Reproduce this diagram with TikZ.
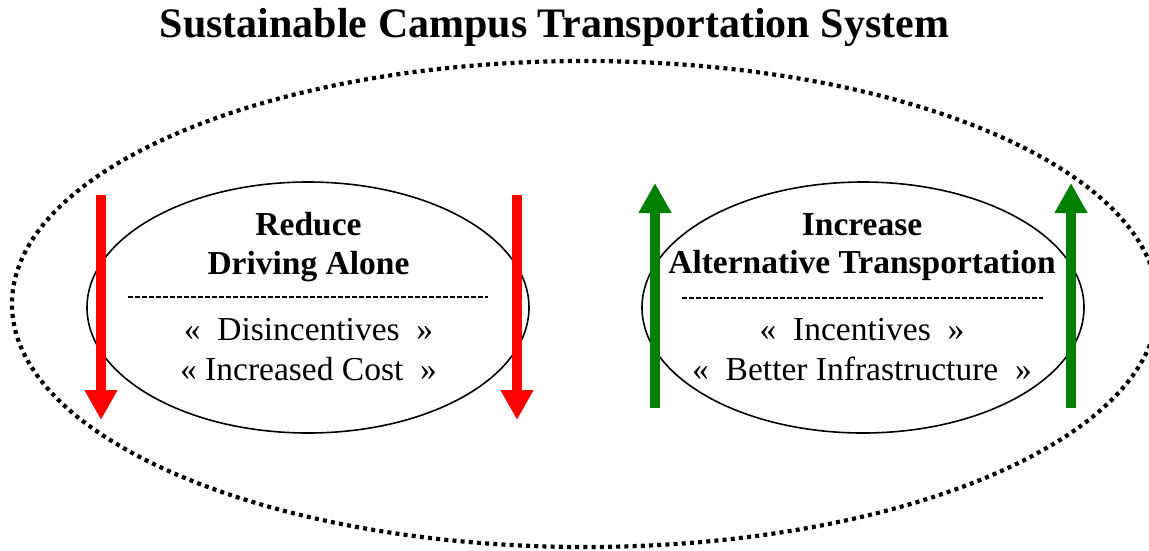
\documentclass[tikz,border=0pt]{standalone}
\usepackage{fontspec}
\setmainfont{Liberation Serif}
\usetikzlibrary{shapes.geometric,arrows.meta}
\definecolor{arrred}{RGB}{255,0,0}
\definecolor{arrgreen}{RGB}{0,128,0}
\tikzset{
  outerring/.style={ellipse, draw, line width=4.2pt, dash pattern=on 4pt off 4.2pt, inner sep=0pt, outer sep=0pt, minimum width=1146pt, minimum height=486pt},
  goalring/.style={ellipse, draw, line width=1.6pt, inner sep=0pt, outer sep=0pt, minimum width=442pt, minimum height=251pt},
  titletext/.style={anchor=base, font=\fontsize{42}{50}\selectfont\bfseries, inner sep=0pt},
  heading/.style={anchor=base, font=\fontsize{33.5}{40}\selectfont\bfseries, inner sep=0pt},
  bodytext/.style={anchor=base, font=\fontsize{33.5}{40}\selectfont, inner sep=0pt},
  separator/.style={line width=1.6pt, dash pattern=on 5pt off 2pt},
  downarrow/.style={draw=arrred, line width=10.5pt, -{Triangle[width=31pt,length=30pt]}},
  uparrow/.style={draw=arrgreen, line width=10pt, -{Triangle[width=31pt,length=30pt]}},
}
\begin{document}
\begin{tikzpicture}[x=1pt,y=-1pt]
\useasboundingbox (0,0) rectangle (1149,550);
\clip (0,0) rectangle (1149,550);

% title
\node[titletext] (title) at (554.5,37) {Sustainable Campus Transportation System};

% outer dotted ring
\node[outerring] (outer) at (585,304) {};

% inner ellipses
\node[goalring] (reduce) at (308,307.5) {};
\node[goalring] (increase) at (863,307.5) {};

% left texts
\node[heading] (rA) at (308.5,235) {Reduce};
\node[heading] (rB) at (308.5,274) {Driving Alone};
\coordinate (sepLa) at (128,297);
\coordinate (sepLb) at (488,297);
\draw[separator] (sepLa) -- (sepLb);
\node[bodytext] (rC) at (308.5,340) {«~~Disincentives~~»};
\node[bodytext] (rD) at (308.5,380) {«~Increased Cost~~»};

% right texts
\node[heading] (iA) at (862,235) {Increase};
\node[heading] (iB) at (862,273) {Alternative Transportation};
\coordinate (sepRa) at (682,298);
\coordinate (sepRb) at (1043,298);
\draw[separator] (sepRa) -- (sepRb);
\node[bodytext] (iC) at (862,340) {«~~Incentives~~»};
\node[bodytext] (iD) at (862,380) {«~~Better Infrastructure~~»};

% red arrows (down)
\coordinate (r1s) at (101,195);
\coordinate (r1e) at (101,420);
\coordinate (r2s) at (517,195);
\coordinate (r2e) at (517,420);
\draw[downarrow] (r1s) -- (r1e);
\draw[downarrow] (r2s) -- (r2e);

% green arrows (up)
\coordinate (g1s) at (655,408);
\coordinate (g1e) at (655,183);
\coordinate (g2s) at (1071,408);
\coordinate (g2e) at (1071,183);
\draw[uparrow] (g1s) -- (g1e);
\draw[uparrow] (g2s) -- (g2e);
\end{tikzpicture}
\end{document}
